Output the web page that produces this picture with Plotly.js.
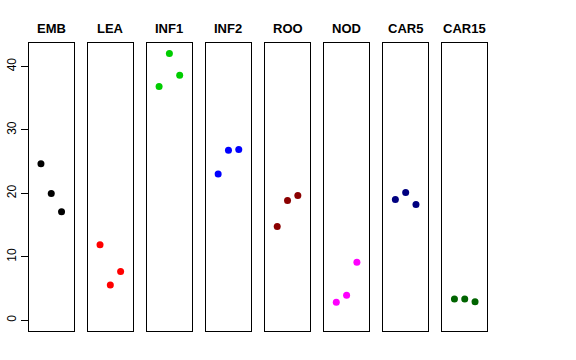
<!DOCTYPE html>
<html>
<head>
<meta charset="utf-8">
<script src="https://cdn.plot.ly/plotly-3.0.1.min.js"></script>
<style>html,body{margin:0;padding:0;background:#fff;}#chart{width:576px;height:360px;}</style>
</head>
<body>
<div id="chart"></div>
<script>
const categories = ["EMB", "LEA", "INF1", "INF2", "ROO", "NOD", "CAR5", "CAR15"];
const replicate = [1, 2, 3];
const EMB = [24.65, 20.0, 17.1];
const LEA = [11.9, 5.57, 7.67];
const INF1 = [36.85, 42.05, 38.6];
const INF2 = [23.07, 26.8, 26.9];
const ROO = [14.77, 18.87, 19.65];
const NOD = [2.84, 3.94, 9.15];
const CAR5 = [19.02, 20.13, 18.23];
const CAR15 = [3.36, 3.36, 2.93];
const yTicks = [0, 10, 20, 30, 40];
const colors = ["#000000", "#FF0000", "#00CD00", "#0000FF", "#8B0000", "#FF00FF", "#000080", "#006400"];

const series = [EMB, LEA, INF1, INF2, ROO, NOD, CAR5, CAR15];

const W = 576, H = 360;
const ml = 29, mr = 88, mt = 43, mb = 29;
const pw = W - ml - mr, ph = H - mt - mb;
const step = 59.07, pwidth = 44.5;

const traces = [];
const layout = {
  width: W, height: H,
  margin: {l: ml, r: mr, t: mt, b: mb, pad: 0},
  paper_bgcolor: "#fff", plot_bgcolor: "#fff",
  showlegend: false,
  font: {family: "Liberation Sans, Arial, sans-serif", color: "#000"},
  annotations: []
};

series.forEach((vals, i) => {
  const n = i === 0 ? "" : String(i + 1);
  traces.push({
    x: replicate, y: vals, type: "scatter", mode: "markers",
    marker: {color: colors[i], size: 7},
    xaxis: "x" + n, yaxis: "y" + n, hoverinfo: "skip"
  });
  const l = step * i / pw, r = (step * i + pwidth) / pw;
  layout["xaxis" + n] = {
    domain: [l, r], range: [-0.16, 4.16], anchor: "y" + n,
    showline: true, mirror: true, linecolor: "#000", linewidth: 1,
    showgrid: false, zeroline: false, showticklabels: false, ticks: "", fixedrange: true
  };
  layout["yaxis" + n] = {
    range: [-1.69, 43.7], anchor: "x" + n,
    showline: true, mirror: true, linecolor: "#000", linewidth: 1,
    showgrid: false, zeroline: false, fixedrange: true,
    tickvals: yTicks, ticktext: yTicks.map(String),
    showticklabels: i === 0, ticks: i === 0 ? "outside" : "",
    ticklen: 7, tickcolor: "#000", tickangle: -90,
    tickfont: {size: 12, family: "Liberation Sans, Arial, sans-serif", color: "#000"}
  };
  layout.annotations.push({
    text: "<b>" + categories[i] + "</b>", xref: "paper", yref: "paper",
    x: (l + r) / 2, y: 1 + 14 / ph, xanchor: "center", yanchor: "middle",
    showarrow: false, font: {size: 13, family: "Liberation Sans, Arial, sans-serif", color: "#000"}
  });
});

Plotly.newPlot("chart", traces, layout, {staticPlot: true, displayModeBar: false});
</script>
</body>
</html>
